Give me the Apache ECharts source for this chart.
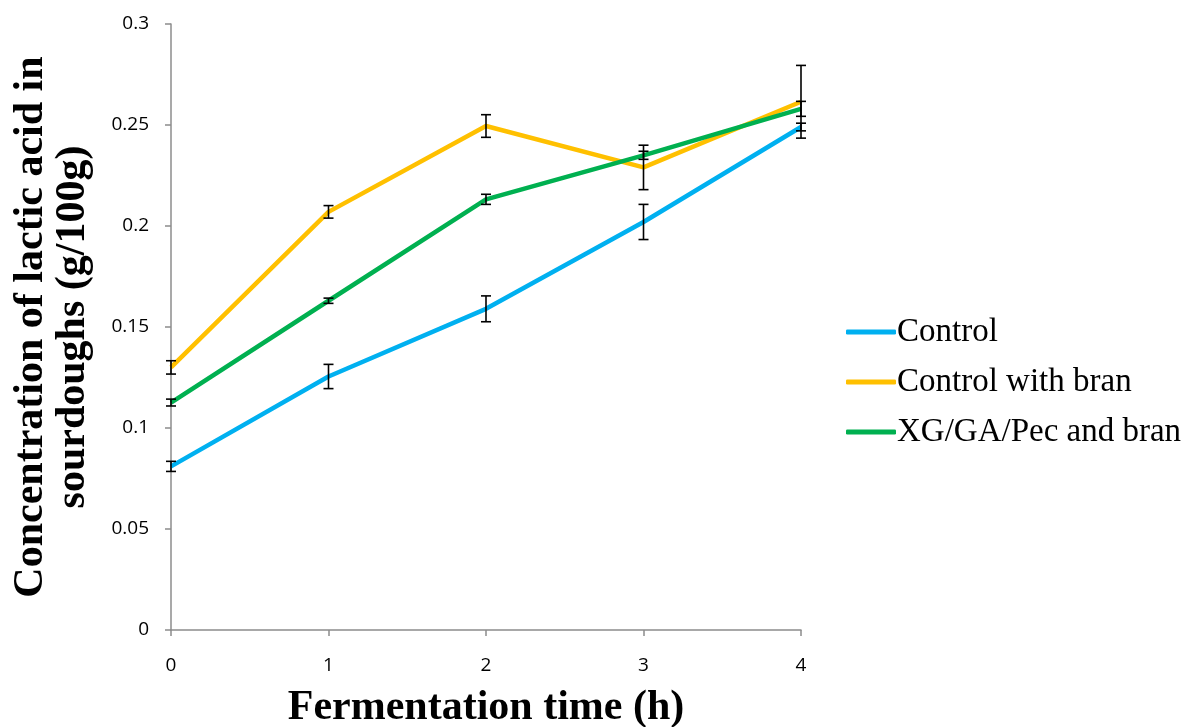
<!DOCTYPE html>
<html>
<head>
<meta charset="utf-8">
<script src="https://cdn.jsdelivr.net/npm/echarts@6/dist/echarts.min.js"></script>
<style>
html,body{margin:0;padding:0;background:#fff;}
#chart{width:1181px;height:727px;}
</style>
</head>
<body>
<div id="chart"></div>
<script>
// Fermentation time (h)
const hours = [0, 1, 2, 3, 4];
const yTicks = [0, 0.05, 0.1, 0.15, 0.2, 0.25, 0.3];

// Lactic acid concentration (g/100g) and standard deviations
const seriesNames = ['Control', 'Control with bran', 'XG/GA/Pec and bran'];
const controlMean = [0.081, 0.1255, 0.159, 0.202, 0.249];
const controlErr  = [0.0025, 0.006, 0.0064, 0.0087, 0.0019];
const branMean    = [0.130, 0.207, 0.2495, 0.229, 0.2615];
const branErr     = [0.0033, 0.0031, 0.0056, 0.011, 0.018];
const xgMean      = [0.1126, 0.163, 0.2132, 0.235, 0.258];
const xgErr       = [0.0017, 0.0013, 0.0025, 0.002, 0.0037];

const colors = ['#00B0F0', '#FFC000', '#00B050'];
const means = [controlMean, branMean, xgMean];
const errs = [controlErr, branErr, xgErr];

function pairs(arr) { return hours.map((h, i) => [h, arr[i]]); }

function errorData(mean, err) {
  return hours.map((h, i) => [h, mean[i] - err[i], mean[i] + err[i]]);
}

function renderError(params, api) {
  const x = api.value(0);
  const lo = api.coord([x, api.value(1)]);
  const hi = api.coord([x, api.value(2)]);
  const half = 5;
  const style = { stroke: '#000', lineWidth: 1.6 };
  return {
    type: 'group',
    children: [
      { type: 'line', shape: { x1: hi[0], y1: hi[1], x2: lo[0], y2: lo[1] }, style },
      { type: 'line', shape: { x1: hi[0] - half, y1: hi[1], x2: hi[0] + half, y2: hi[1] }, style },
      { type: 'line', shape: { x1: lo[0] - half, y1: lo[1], x2: lo[0] + half, y2: lo[1] }, style }
    ]
  };
}

const lineSeries = seriesNames.map((name, k) => ({
  name: name,
  type: 'line',
  data: pairs(means[k]),
  symbol: 'none',
  lineStyle: { color: colors[k], width: 4.5 },
  itemStyle: { color: colors[k] },
  z: 3
}));

const errSeries = seriesNames.map((name, k) => ({
  type: 'custom',
  renderItem: renderError,
  data: errorData(means[k], errs[k]),
  encode: { x: 0, y: [1, 2] },
  z: 5,
  silent: true
}));

const chart = echarts.init(document.getElementById('chart'), null, { renderer: 'canvas' });
chart.setOption({
  animation: false,
  backgroundColor: '#fff',
  grid: { left: 171, right: 380, top: 24, bottom: 97, containLabel: false, outerBoundsMode: 'none' },
  xAxis: {
    type: 'value',
    min: 0, max: 4, interval: 1,
    axisLine: { lineStyle: { color: '#8c8c8c', width: 1.5 } },
    axisTick: { show: true, length: 6, lineStyle: { color: '#8c8c8c', width: 1.5 } },
    splitLine: { show: false },
    axisLabel: { color: '#000', fontFamily: 'Open Sans', fontSize: 19, margin: 26 },
    name: 'Fermentation time (h)',
    nameLocation: 'middle',
    nameGap: 57,
    nameTextStyle: { color: '#000', fontFamily: 'Liberation Serif', fontWeight: 'bold', fontSize: 42 }
  },
  yAxis: {
    type: 'value',
    min: 0, max: 0.3, interval: 0.05,
    axisLine: { show: true, lineStyle: { color: '#8c8c8c', width: 1.5 } },
    axisTick: { show: true, length: 6, lineStyle: { color: '#8c8c8c', width: 1.5 } },
    splitLine: { show: false },
    axisLabel: {
      color: '#000', fontFamily: 'Open Sans', fontSize: 19, margin: 22,
      formatter: v => String(yTicks.find(t => Math.abs(t - v) < 1e-9) ?? v)
    },
    name: 'Concentration of lactic acid in\nsourdoughs (g/100g)',
    nameLocation: 'middle',
    nameGap: 77,
    nameTextStyle: { color: '#000', fontFamily: 'Liberation Serif', fontWeight: 'bold', fontSize: 42, lineHeight: 42 }
  },
  legend: {
    orient: 'vertical',
    left: 841,
    top: 310,
    itemWidth: 50,
    itemHeight: 5,
    itemGap: 16,
    icon: 'roundRect',
    data: seriesNames,
    textStyle: { color: '#000', fontFamily: 'Liberation Serif', fontSize: 33, padding: [0, 0, 0, -4], lineHeight: 34 }
  },
  series: lineSeries.concat(errSeries)
});
</script>
</body>
</html>
